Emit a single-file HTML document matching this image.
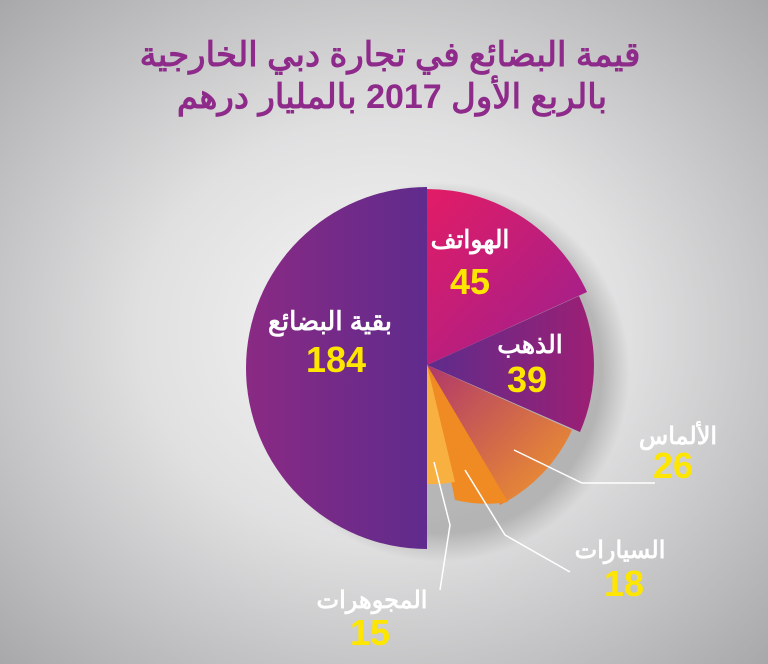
<!DOCTYPE html>
<html><head><meta charset="utf-8"><style>
body{margin:0;width:768px;height:664px;overflow:hidden;background:radial-gradient(ellipse at 50% 50%,#f6f6f6 0%,#e0e0e1 45%,#a8a8aa 100%);font-family:"Liberation Sans","Noto Sans CJK SC",sans-serif}
</style></head><body>
<svg width="768" height="664" viewBox="0 0 768 664" style="position:absolute;left:0;top:0">
<defs>
<linearGradient id="gL" x1="0" y1="0" x2="1" y2="0"><stop offset="0" stop-color="#8a2a84"/><stop offset="1" stop-color="#5f2b8c"/></linearGradient>
<linearGradient id="gP" x1="0" y1="0" x2="1" y2="1"><stop offset="0" stop-color="#e21c66"/><stop offset="1" stop-color="#9a2090"/></linearGradient>
<linearGradient id="gG" x1="0" y1="0" x2="1" y2="0"><stop offset="0" stop-color="#5e2c8c"/><stop offset="1" stop-color="#9c1f74"/></linearGradient>
<linearGradient id="gD" x1="0" y1="0" x2="1" y2="1"><stop offset="0" stop-color="#b0386a"/><stop offset="1" stop-color="#f39a2a"/></linearGradient>
<radialGradient id="sh" cx="0.5" cy="0.5" r="0.5"><stop offset="0.85" stop-color="#888" stop-opacity="0.5"/><stop offset="1" stop-color="#888" stop-opacity="0"/></radialGradient>
</defs>
<circle cx="440" cy="372" r="190" fill="url(#sh)"/>
<path d="M427,365 L427,187 A178,178 0 0 0 427,549 Z" fill="url(#gL)"/>
<path d="M427,365 L427,189 A176,176 0 0 1 587,292 Z" fill="url(#gP)"/>
<path d="M427,365 L579,296 A167,167 0 0 1 580,432 Z" fill="url(#gG)"/>
<path d="M427,365 L572,430 A158,158 0 0 1 500,505 Z" fill="url(#gD)"/>
<path d="M427,365 L508,502 A138,138 0 0 1 455,500 Z" fill="#f08a22"/>
<path d="M427,365 L455,482 A119,119 0 0 1 427,484 Z" fill="#f8b040"/>
<g stroke="#fff" stroke-width="1.5" fill="none">
<polyline points="514,450 582,483 655,483"/>
<polyline points="465,470 505,535 570,572"/>
<polyline points="434,462 450,525 440,590"/>
</g>
<g text-anchor="middle" font-weight="bold">
<text x="390" y="66" font-size="34" fill="#8e2a8a">قيمة البضائع في تجارة دبي الخارجية</text>
<text x="392" y="108" font-size="34" fill="#8e2a8a">بالربع الأول 2017 بالمليار درهم</text>
<text x="470" y="248" font-size="25" fill="#fff">الهواتف</text>
<text x="470" y="294" font-size="36" fill="#ffe600">45</text>
<text x="530" y="353" font-size="25" fill="#fff">الذهب</text>
<text x="527" y="392" font-size="36" fill="#ffe600">39</text>
<text x="330" y="330" font-size="26" fill="#fff">بقية البضائع</text>
<text x="336" y="372" font-size="36" fill="#ffe600">184</text>
<text x="678" y="444" font-size="24" fill="#fff">الألماس</text>
<text x="673" y="478" font-size="36" fill="#ffe600">26</text>
<text x="620" y="558" font-size="24" fill="#fff">السيارات</text>
<text x="624" y="596" font-size="36" fill="#ffe600">18</text>
<text x="372" y="608" font-size="24" fill="#fff">المجوهرات</text>
<text x="370" y="645" font-size="36" fill="#ffe600">15</text>
</g>
</svg>
</body></html>
